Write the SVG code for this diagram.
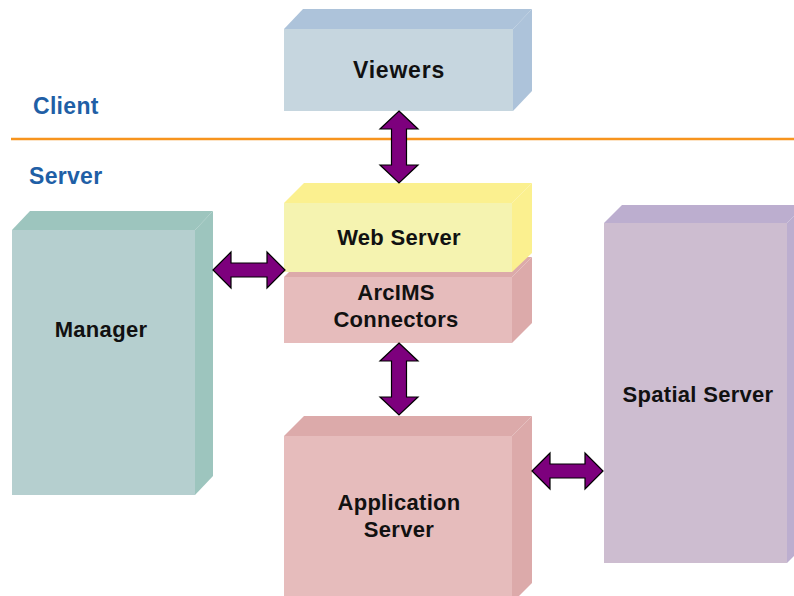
<svg xmlns="http://www.w3.org/2000/svg" width="794" height="596" viewBox="0 0 794 596">
<style>
.lbl{font-family:"Liberation Sans",Arial,Helvetica,sans-serif;font-weight:bold;font-size:22px;letter-spacing:0.3px;fill:#111;text-anchor:middle}
.zone{font-family:"Liberation Sans",Arial,Helvetica,sans-serif;font-weight:bold;font-size:23px;letter-spacing:0.3px;fill:#1f5fa6}
.arrow{fill:#7d007d;stroke:#000;stroke-width:1.2;stroke-linejoin:miter}
</style>
<rect width="794" height="596" fill="#fff"/>
<text class="zone" x="33" y="114">Client</text>
<text class="zone" x="29" y="184">Server</text>
<line x1="11" y1="139" x2="794" y2="139" stroke="#f7941d" stroke-width="2.5"/>

<g id="viewers">
<polygon points="284,29 303,9 532,9 513,29" fill="#adc3da"/>
<polygon points="513,29 532,9 532,91 513,111" fill="#adc3da"/>
<rect x="284" y="29" width="229" height="82" fill="#c6d6df"/>
<text class="lbl" x="399" y="78" style="font-size:23px;letter-spacing:0.8px">Viewers</text>
</g>

<g id="arcims">
<polygon points="284,277 304,257 532,257 512,277" fill="#dcaaaa"/>
<polygon points="512,277 532,257 532,323 512,343" fill="#dcaaaa"/>
<rect x="284" y="277" width="228" height="66" fill="#e6bcbc"/>
<text class="lbl" x="396" y="300">ArcIMS</text>
<text class="lbl" x="396" y="327">Connectors</text>
</g>

<g id="webserver">
<polygon points="284,203 304,183 532,183 512,203" fill="#fbf08f"/>
<polygon points="512,203 532,183 532,253 512,272" fill="#fbf08f"/>
<rect x="284" y="203" width="228" height="69" fill="#f5f3b0"/>
<text class="lbl" x="399" y="245">Web Server</text>
</g>

<g id="manager">
<polygon points="12,230 30,211 213,211 195,230" fill="#9dc5be"/>
<polygon points="195,230 213,211 213,476 195,495" fill="#9dc5be"/>
<rect x="12" y="230" width="183" height="265" fill="#b5cfcf"/>
<text class="lbl" x="101" y="337">Manager</text>
</g>

<g id="appserver">
<polygon points="284,436 304,416 532,416 512,436" fill="#dcaaaa"/>
<polygon points="512,436 532,416 532,583 512,603" fill="#dcaaaa"/>
<rect x="284" y="436" width="228" height="170" fill="#e6bcbc"/>
<text class="lbl" x="399" y="510">Application</text>
<text class="lbl" x="399" y="537">Server</text>
</g>

<g id="spatial">
<polygon points="604,223 622,205 805,205 787,223" fill="#bcaecf"/>
<polygon points="787,223 805,205 805,545 787,563" fill="#bcaecf"/>
<rect x="604" y="223" width="183" height="340" fill="#cdbdd0"/>
<text class="lbl" x="698" y="402">Spatial Server</text>
</g>

<g id="connectors">
<polygon class="arrow" points="399,111 418,129 406.5,129 406.5,165 418,165 399,183 380,165 391.5,165 391.5,129 380,129"/>
<polygon class="arrow" points="399,343 418,361 406.5,361 406.5,397 418,397 399,415 380,397 391.5,397 391.5,361 380,361"/>
<polygon class="arrow" points="213,270 231,252 231,263 267,263 267,252 285,270 267,288 267,277 231,277 231,288"/>
<polygon class="arrow" points="532,471 550,453 550,464 585,464 585,453 603,471 585,489 585,478 550,478 550,489"/>
</g>
</svg>
